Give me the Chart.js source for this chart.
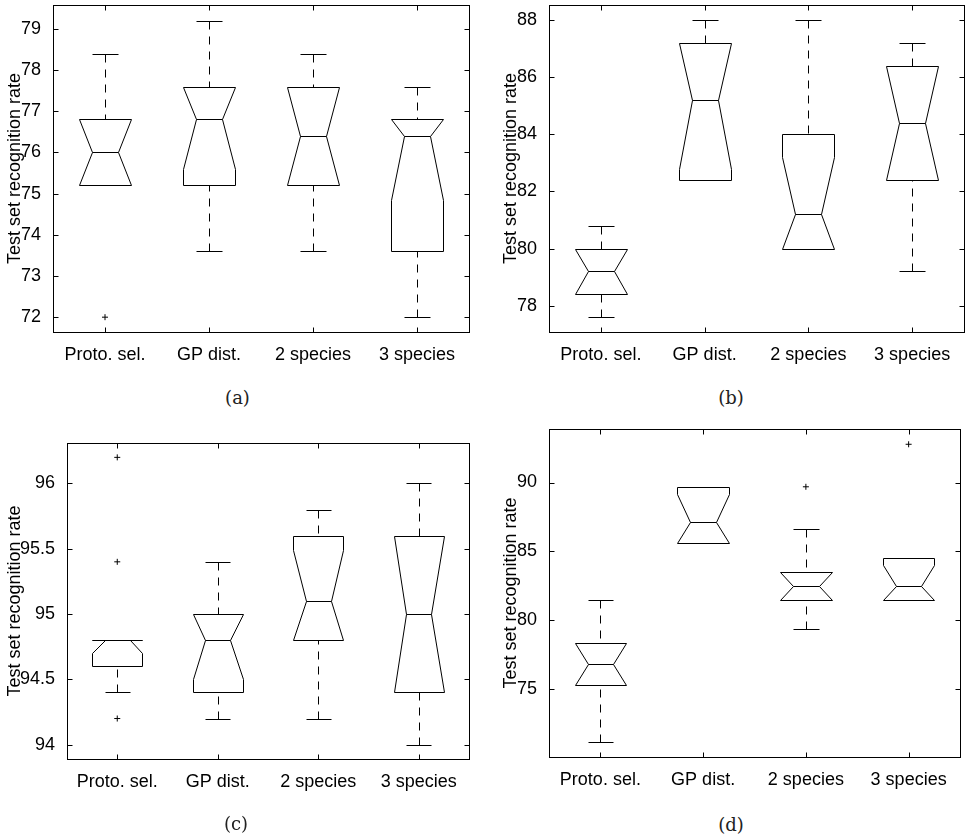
<!DOCTYPE html>
<html>
<head>
<meta charset="utf-8">
<script src="https://cdn.jsdelivr.net/npm/chart.js@4.4.0/dist/chart.umd.min.js"></script>
<style>
html,body{margin:0;padding:0;background:#fff;}
body{width:965px;height:839px;position:relative;overflow:hidden;}
canvas{position:absolute;}
.cap{position:absolute;font-family:'DejaVu Serif',serif;font-size:18px;color:#222;transform:translate(-50%,-50%);white-space:nowrap;line-height:1;}
</style>
</head>
<body>
<canvas id="ca" width="480" height="380" style="left:0px;top:0px;width:480px;height:380px"></canvas>
<canvas id="cb" width="469" height="380" style="left:496px;top:0px;width:469px;height:380px"></canvas>
<canvas id="cc" width="480" height="400" style="left:0px;top:420px;width:480px;height:400px"></canvas>
<canvas id="cd" width="469" height="400" style="left:496px;top:410px;width:469px;height:400px"></canvas>
<div class="cap" style="left:237.5px;top:398px">(a)</div>
<div class="cap" style="left:731px;top:398px">(b)</div>
<div class="cap" style="left:236px;top:824px">(c)</div>
<div class="cap" style="left:731px;top:825px">(d)</div>
<script>
// ---------------- data ----------------
const categories = ['Proto. sel.', 'GP dist.', '2 species', '3 species'];
const yAxisTitle = 'Test set recognition rate';

// panel (a)
const aLowerWhisker = [75.2, 73.6, 73.6, 72.0];
const aQ1           = [75.2, 75.2, 75.2, 73.6];
const aNotchLow     = [75.2, 75.6, 75.2, 74.84];
const aMedian       = [76.0, 76.8, 76.4, 76.4];
const aNotchHigh    = [76.8, 77.6, 77.6, 76.8];
const aQ3           = [76.8, 77.6, 77.6, 76.8];
const aUpperWhisker = [78.4, 79.2, 78.4, 77.6];
const aOutlierCategory = ['Proto. sel.'];
const aOutlierValue    = [72.0];
const aTicks = [72, 73, 74, 75, 76, 77, 78, 79];
const aRange = [71.64, 79.58];

// panel (b)
const bLowerWhisker = [77.6, 82.4, 80.0, 79.2];
const bQ1           = [78.4, 82.4, 80.0, 82.4];
const bNotchLow     = [78.4, 82.8, 80.0, 82.4];
const bMedian       = [79.2, 85.2, 81.2, 84.4];
const bNotchHigh    = [80.0, 87.2, 83.2, 86.4];
const bQ3           = [80.0, 87.2, 84.0, 86.4];
const bUpperWhisker = [80.8, 88.0, 88.0, 87.2];
const bOutlierCategory = [];
const bOutlierValue    = [];
const bTicks = [78, 80, 82, 84, 86, 88];
const bRange = [77.08, 88.53];

// panel (c)
const cLowerWhisker = [94.4, 94.2, 94.2, 94.0];
const cQ1           = [94.6, 94.4, 94.8, 94.4];
const cNotchLow     = [94.7, 94.5, 94.8, 94.4];
const cMedian       = [94.8, 94.8, 95.1, 95.0];
const cNotchHigh    = [94.8, 95.0, 95.49, 95.6];
const cQ3           = [94.8, 95.0, 95.6, 95.6];
const cUpperWhisker = [94.8, 95.4, 95.8, 96.0];
const cOutlierCategory = ['Proto. sel.', 'Proto. sel.', 'Proto. sel.'];
const cOutlierValue    = [96.2, 95.4, 94.2];
const cTicks = [94, 94.5, 95, 95.5, 96];
const cRange = [93.89, 96.31];

// panel (d)
const dLowerWhisker = [71.13, 85.57, 79.38, 81.44];
const dQ1           = [75.26, 85.57, 81.44, 81.44];
const dNotchLow     = [75.26, 85.57, 81.44, 81.44];
const dMedian       = [76.80, 87.11, 82.47, 82.47];
const dNotchHigh    = [78.35, 89.13, 83.51, 83.98];
const dQ3           = [78.35, 89.69, 83.51, 84.54];
const dUpperWhisker = [81.44, 89.69, 86.60, 84.54];
const dOutlierCategory = ['2 species', '3 species'];
const dOutlierValue    = [89.69, 92.78];
const dTicks = [75, 80, 85, 90];
const dRange = [70.05, 93.89];

// ---------------- drawing ----------------
Chart.defaults.font.family = "'Liberation Sans', Arial, Helvetica, sans-serif";
Chart.defaults.font.size = 18;
Chart.defaults.color = '#000';

function seg(ctx, x1, y1, x2, y2) {
  ctx.beginPath(); ctx.moveTo(x1, y1); ctx.lineTo(x2, y2); ctx.stroke();
}
const snap = v => Math.round(v) + 0.5;

const notchPlugin = {
  id: 'notchBox',
  afterDatasetsDraw(chart, args, opts) {
    const b = opts.box;
    if (!b) return;
    const {ctx} = chart;
    const x = chart.scales.x, y = chart.scales.y;
    const py = v => snap(y.getPixelForValue(v));
    ctx.save();
    ctx.strokeStyle = '#000';
    ctx.lineWidth = 1;
    for (let i = 0; i < b.median.length; i++) {
      const cx = x.getPixelForValue(i);
      const hw = x.getPixelForValue(i + 0.25) - cx;   // half box width
      const nw = hw / 2;                              // half notch / cap width
      const X = snap(cx);
      const L = snap(cx - hw), R = snap(cx + hw);
      const NL = snap(cx - nw), NR = snap(cx + nw);
      const yq1 = py(b.q1[i]), ynl = py(b.notchLow[i]), ym = py(b.median[i]);
      const ynh = py(b.notchHigh[i]), yq3 = py(b.q3[i]);
      const yuw = py(b.upper[i]), ylw = py(b.lower[i]);
      // dashed whiskers
      ctx.setLineDash([8, 7]);
      if (b.upper[i] > b.q3[i]) seg(ctx, X, yuw, X, yq3);
      if (b.lower[i] < b.q1[i]) seg(ctx, X, ylw, X, yq1);
      ctx.setLineDash([]);
      // caps
      seg(ctx, NL, yuw, NR, yuw);
      seg(ctx, NL, ylw, NR, ylw);
      // notched box outline
      ctx.beginPath();
      ctx.moveTo(L, yq1);
      ctx.lineTo(L, ynl);
      ctx.lineTo(NL, ym);
      ctx.lineTo(L, ynh);
      ctx.lineTo(L, yq3);
      ctx.lineTo(R, yq3);
      ctx.lineTo(R, ynh);
      ctx.lineTo(NR, ym);
      ctx.lineTo(R, ynl);
      ctx.lineTo(R, yq1);
      ctx.closePath();
      ctx.stroke();
      // median
      seg(ctx, NL, ym, NR, ym);
    }
    ctx.restore();
  },
  afterDraw(chart) {
    const {ctx, chartArea} = chart;
    const x = chart.scales.x, y = chart.scales.y;
    const L = snap(chartArea.left), R = snap(chartArea.right);
    const T = snap(chartArea.top), B = snap(chartArea.bottom);
    ctx.save();
    ctx.strokeStyle = '#000';
    ctx.lineWidth = 1;
    ctx.strokeRect(L, T, R - L, B - T);
    const tl = 5;
    y.ticks.forEach(t => {
      const yy = snap(y.getPixelForValue(t.value));
      seg(ctx, L, yy, L + tl, yy);
      seg(ctx, R - tl, yy, R, yy);
    });
    x.ticks.forEach((t, i) => {
      const xx = snap(x.getPixelForTick(i));
      seg(ctx, xx, T, xx, T + tl);
      seg(ctx, xx, B - tl, xx, B);
    });
    ctx.restore();
  }
};

function makeChart(id, d, lay) {
  return new Chart(document.getElementById(id), {
    type: 'line',
    data: {
      labels: categories,
      datasets: [{
        data: d.outCat.map((c, i) => ({x: c, y: d.outVal[i]})),
        showLine: false,
        pointStyle: 'cross',
        pointRadius: 3,
        pointBorderWidth: 1,
        pointBorderColor: '#000',
        pointBackgroundColor: '#000',
        borderColor: '#000'
      }]
    },
    options: {
      responsive: false,
      animation: false,
      events: [],
      layout: {padding: lay.pad},
      plugins: {
        legend: {display: false},
        tooltip: {enabled: false},
        notchBox: {box: d}
      },
      scales: {
        x: {
          type: 'category',
          offset: true,
          grid: {display: false},
          border: {display: false},
          ticks: {padding: 4, maxRotation: 0, minRotation: 0, autoSkip: false, color: '#000', font: {size: 18}},
          afterFit(s) { s.height = lay.xH; s.paddingLeft = 0; s.paddingRight = 0; }
        },
        y: {
          type: 'linear',
          min: d.range[0],
          max: d.range[1],
          bounds: 'data',
          grid: {display: false},
          border: {display: false},
          ticks: {padding: 4, autoSkip: false, color: '#000', font: {size: 18}, callback: v => String(v)},
          afterBuildTicks(s) { s.ticks = d.ticks.map(v => ({value: v})); },
          afterFit(s) { s.width = lay.yW; s.paddingTop = 0; s.paddingBottom = 0; },
          title: {display: true, text: yAxisTitle, color: '#000', font: {size: 18}, padding: {top: 4, bottom: 0}}
        }
      }
    },
    plugins: [notchPlugin]
  });
}

makeChart('ca', {
  lower: aLowerWhisker, q1: aQ1, notchLow: aNotchLow, median: aMedian, notchHigh: aNotchHigh,
  q3: aQ3, upper: aUpperWhisker, outCat: aOutlierCategory, outVal: aOutlierValue, ticks: aTicks, range: aRange
}, {pad: {left: 0, top: 5, right: 11, bottom: 8}, yW: 53, xH: 40});

makeChart('cb', {
  lower: bLowerWhisker, q1: bQ1, notchLow: bNotchLow, median: bMedian, notchHigh: bNotchHigh,
  q3: bQ3, upper: bUpperWhisker, outCat: bOutlierCategory, outVal: bOutlierValue, ticks: bTicks, range: bRange
}, {pad: {left: 0, top: 5, right: 1, bottom: 8}, yW: 53, xH: 40});

makeChart('cc', {
  lower: cLowerWhisker, q1: cQ1, notchLow: cNotchLow, median: cMedian, notchHigh: cNotchHigh,
  q3: cQ3, upper: cUpperWhisker, outCat: cOutlierCategory, outVal: cOutlierValue, ticks: cTicks, range: cRange
}, {pad: {left: 0, top: 23, right: 11, bottom: 21}, yW: 67, xH: 40});

makeChart('cd', {
  lower: dLowerWhisker, q1: dQ1, notchLow: dNotchLow, median: dMedian, notchHigh: dNotchHigh,
  q3: dQ3, upper: dUpperWhisker, outCat: dOutlierCategory, outVal: dOutlierValue, ticks: dTicks, range: dRange
}, {pad: {left: 0, top: 19, right: 1, bottom: 13}, yW: 53, xH: 40});
</script>
</body>
</html>
